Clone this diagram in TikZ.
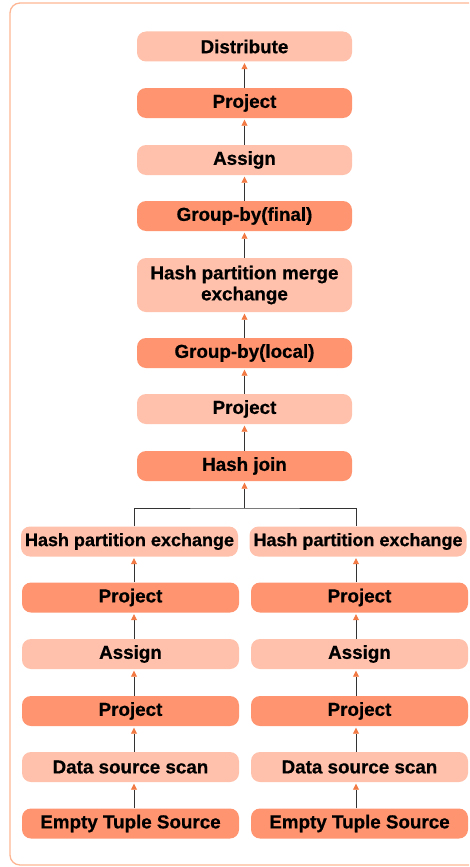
\documentclass[tikz,border=0pt]{standalone}
\usepackage{fontspec}
\setmainfont[BoldFeatures={FakeBold=0.6}]{Liberation Sans}
\usetikzlibrary{arrows.meta,calc}
\definecolor{opLight}{HTML}{FFC1AB}
\definecolor{opDark}{HTML}{FE9470}
\definecolor{frameOr}{HTML}{FDB693}
\definecolor{tipOr}{HTML}{F27B45}
\definecolor{wireGray}{HTML}{333333}

\begin{document}
\begin{tikzpicture}[x=1pt,y=-1pt,
  op/.style={rounded corners=9pt, minimum height=30pt, inner sep=0pt,
    font=\fontsize{18.8}{21}\selectfont\bfseries, text=black, align=center},
  light/.style={op, fill=opLight},
  dark/.style={op, fill=opDark},
  topop/.style={minimum width=215pt},
  colop/.style={minimum width=217pt},
  snug/.style={font=\fontsize{18}{21}\selectfont\bfseries},
  flow/.style={draw=wireGray, line width=0.8pt,
    -{Triangle[length=6pt,width=6pt,color=tipOr]}, shorten >=1.5pt},
  plain/.style={draw=wireGray, line width=0.8pt}]

\useasboundingbox (0,0) rectangle (469,867);
\clip (0,0) rectangle (469,867);

% outer frame, open to the right
\draw[frameOr, line width=1.3pt, rounded corners=10pt]
  (490,3) -- (10,3) -- (10,865) -- (490,865);

% main column
\node[light, topop] (dist)  at (244.5,46.5) {Distribute};
\node[dark,  topop] (projA) at (244.5,103)  {Project};
\node[light, topop] (asgA)  at (244.5,160)  {Assign};
\node[dark,  topop] (gbf)   at (244.5,216)  {Group-by(final)};
\node[light, topop, minimum height=54pt] (hpme) at (244.5,285)
  {Hash partition merge\\exchange};
\node[dark,  topop] (gbl)   at (244.5,353)  {Group-by(local)};
\node[light, topop] (projB) at (244.5,409)  {Project};
\node[dark,  topop] (hj)    at (244.5,466)  {Hash join};

% left branch
\node[light, colop, snug] (hpeL) at (129.5,541.5) {Hash partition exchange};
\node[dark,  colop] (prL1)  at (130.5,597.5) {Project};
\node[light, colop] (asL)   at (130.5,654)   {Assign};
\node[dark,  colop] (prL2)  at (130.5,711)   {Project};
\node[light, colop] (dsL)   at (130.5,767)   {Data source scan};
\node[dark,  colop] (etL)   at (130.5,823.5) {Empty Tuple Source};

% right branch
\node[light, colop, snug] (hpeR) at (358,541.5) {Hash partition exchange};
\node[dark,  colop] (prR1)  at (359.5,597.5) {Project};
\node[light, colop] (asR)   at (359.5,654)   {Assign};
\node[dark,  colop] (prR2)  at (359.5,711)   {Project};
\node[light, colop] (dsR)   at (359.5,767)   {Data source scan};
\node[dark,  colop] (etR)   at (359.5,823.5) {Empty Tuple Source};

% main column flow
\draw[flow] (projA.north) -- (dist.south);
\draw[flow] (asgA.north)  -- (projA.south);
\draw[flow] (gbf.north)   -- (asgA.south);
\draw[flow] (hpme.north)  -- (gbf.south);
\draw[flow] (gbl.north)   -- (hpme.south);
\draw[flow] (projB.north) -- (gbl.south);
\draw[flow] (hj.north)    -- (projB.south);

% join of the two branches
\coordinate (fork) at (244.5,508);
\draw[plain] ([xshift=4.5pt]hpeL.north) |- (fork) -| ([xshift=-2pt]hpeR.north);
\draw[flow] (fork) -- (hj.south);

% left branch flow
\draw[flow] ([xshift=3.5pt]prL1.north) -- ([xshift=3.5pt]prL1.north |- hpeL.south);
\draw[flow] ([xshift=3.5pt]asL.north)  -- ([xshift=3.5pt]prL1.south);
\draw[flow] ([xshift=3.5pt]prL2.north) -- ([xshift=3.5pt]asL.south);
\draw[flow] ([xshift=3.5pt]dsL.north)  -- ([xshift=3.5pt]prL2.south);
\draw[flow] ([xshift=3.5pt]etL.north)  -- ([xshift=3.5pt]dsL.south);

% right branch flow
\draw[flow] ([xshift=-3.5pt]prR1.north) -- ([xshift=-3.5pt]prR1.north |- hpeR.south);
\draw[flow] ([xshift=-3.5pt]asR.north)  -- ([xshift=-3.5pt]prR1.south);
\draw[flow] ([xshift=-3.5pt]prR2.north) -- ([xshift=-3.5pt]asR.south);
\draw[flow] ([xshift=-3.5pt]dsR.north)  -- ([xshift=-3.5pt]prR2.south);
\draw[flow] ([xshift=-3.5pt]etR.north)  -- ([xshift=-3.5pt]dsR.south);
\end{tikzpicture}
\end{document}
